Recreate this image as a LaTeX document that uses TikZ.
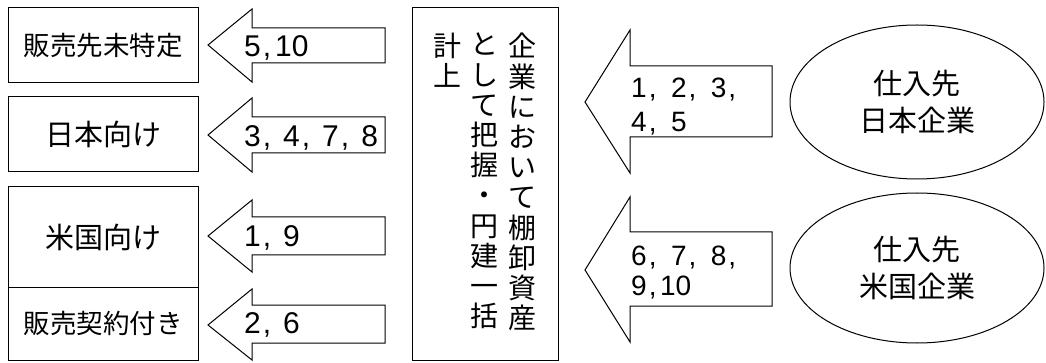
\documentclass[tikz,border=0pt]{standalone}
\usepackage{fontspec}
\setmainfont{Noto Sans CJK JP}
\newfontfamily\numfont{Liberation Sans}
\usetikzlibrary{shapes.geometric}
\newcommand\mysep{\kern2pt,\kern12pt}
\newcommand\mysepr{\kern2pt,\kern14.5pt}
\begin{document}
\begin{tikzpicture}[x=1pt,y=-1pt,
  box/.style={draw=black,line width=1pt,inner sep=0pt,align=center},
  oval/.style={draw=black,line width=1pt,ellipse,inner sep=0pt,align=center,font=\fontsize{29}{37}\selectfont},
  blk/.style={draw=black,line width=1pt,line join=miter},
  lbl/.style={anchor=base west,inner sep=0pt,font=\numfont\fontsize{30}{30}\selectfont},
  rlbl/.style={anchor=base west,inner sep=0pt,align=left,font=\numfont\fontsize{28}{32}\selectfont},
  vcol/.style={anchor=north,inner sep=0pt,align=center,font=\fontsize{28}{30.2}\selectfont}]
\useasboundingbox (0,0) rectangle (1046,363);
% left boxes
\node[box,minimum width=190pt,minimum height=75pt,font=\fontsize{26.5}{30}\selectfont] (b1) at (103,45.5) {販売先未特定};
\node[box,minimum width=190pt,minimum height=75pt,font=\fontsize{29}{30}\selectfont] (b2) at (103,134.5) {日本向け};
\node[box,minimum width=190pt,minimum height=100pt,font=\fontsize{29}{30}\selectfont] (b3) at (103,237) {米国向け};
\node[box,minimum width=190pt,minimum height=73pt,font=\fontsize{26.5}{30}\selectfont] (b4) at (103,323.5) {販売契約付き};
% left block arrows
\draw[blk] (208,45) -- (252,9) -- (252,28) -- (385,28) -- (385,63) -- (252,63) -- (252,82) -- cycle;
\draw[blk] (208,135) -- (252,98) -- (252,117) -- (385,117) -- (385,153) -- (252,153) -- (252,172) -- cycle;
\draw[blk] (208,236) -- (252,200) -- (252,217) -- (385,217) -- (385,255) -- (252,255) -- (252,272) -- cycle;
\draw[blk] (208,325) -- (252,289) -- (252,305) -- (385,305) -- (385,343) -- (252,343) -- (252,360) -- cycle;
\node[lbl] (l1) at (244,56.5) {5\kern2pt,\kern4pt10};
\node[lbl] (l2) at (244,146.5) {3\mysep4\mysep7\mysep8};
\node[lbl] (l3) at (244,246.5) {1\mysep9};
\node[lbl] (l4) at (244,333) {2\mysep6};
% centre box
\node[box,minimum width=146pt,minimum height=352pt] (c) at (485,184) {};
\node[vcol] (v1) at (522,33) {企\\業\\に\\お\\い\\て\\棚\\卸\\資\\産};
\node[vcol] (v2) at (484,33) {と\\し\\て\\把\\握\\・\\円\\建\\一\\括};
\node[vcol] (v3) at (447,33) {計\\上};
% right block arrows
\draw[blk] (585,102) -- (630,30) -- (630,66) -- (772,66) -- (772,137) -- (630,137) -- (630,173) -- cycle;
\draw[blk] (585,270) -- (630,197) -- (630,232) -- (772,232) -- (772,306) -- (630,306) -- (630,342) -- cycle;
\node[rlbl] (r1) at (631,132) {1\mysepr2\mysepr3\kern2pt,\\[2pt]4\mysepr5};
\node[rlbl] (r2) at (631,295) {6\mysepr7\mysepr8\kern2pt,\\[-2pt]9\kern2pt,\kern3.5pt10};
% ellipses
\node[oval,minimum width=254pt,minimum height=154pt] (e1) at (917,102) {仕入先\\日本企業};
\node[oval,minimum width=254pt,minimum height=150pt] (e2) at (917,268) {仕入先\\米国企業};
\end{tikzpicture}
\end{document}
